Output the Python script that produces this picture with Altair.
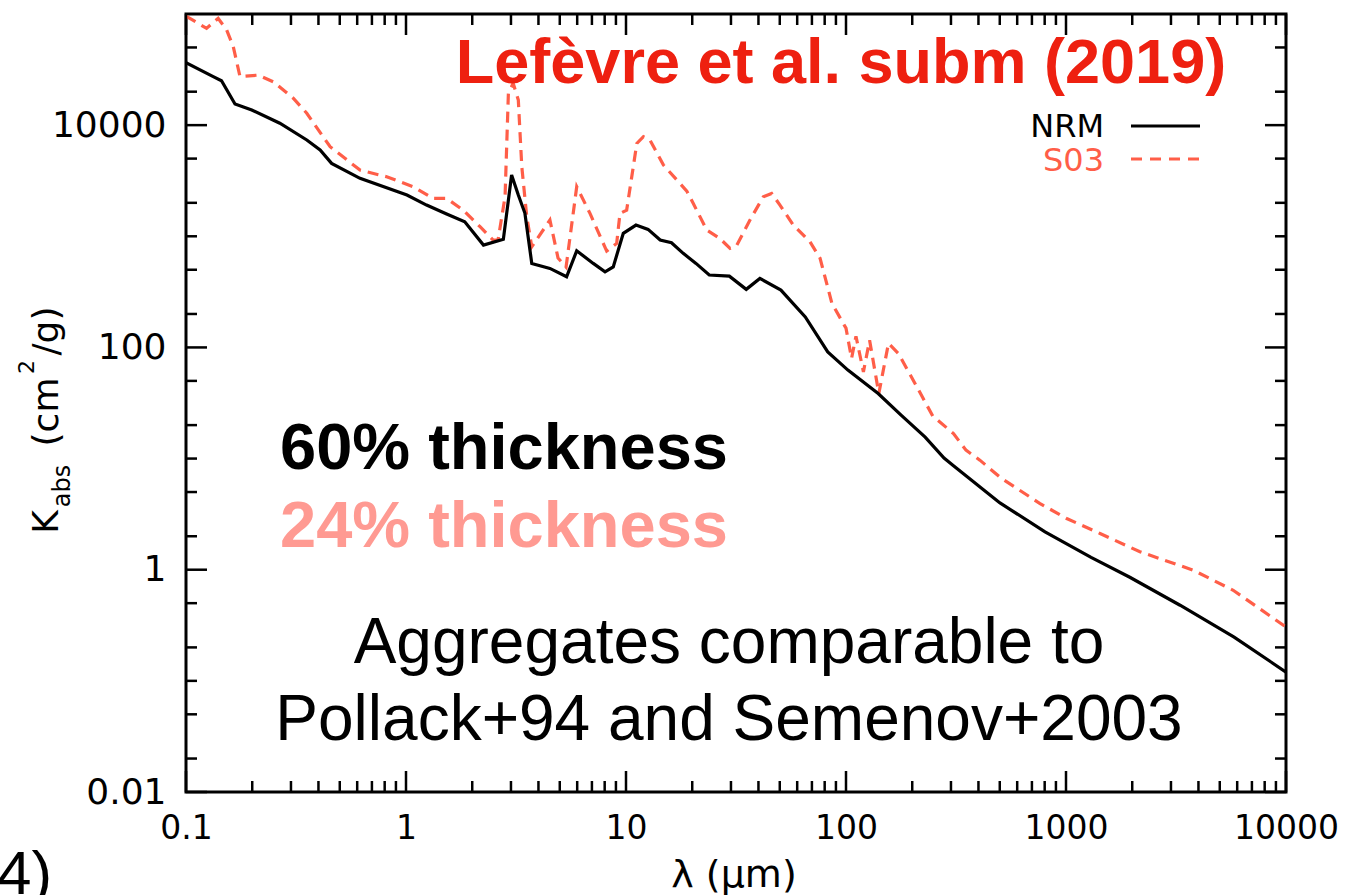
import altair as alt
import pandas as pd

# ---------------- data ----------------
# NRM, 60% thickness (solid black): wavelength (micron), kappa_abs (cm^2/g)
nrm_wl = [0.1, 0.133, 0.145, 0.167, 0.199, 0.267, 0.354, 0.407, 0.459, 0.618,
          1.01, 1.24, 1.53, 1.85, 2.25, 2.77, 3.02, 3.24, 3.47, 3.73,
          4.51, 5.37, 5.97, 7.10, 8.03, 8.75, 9.72, 11.1, 12.6, 14.3,
          16.1, 18.2, 20.8, 23.9, 29.5, 35.2, 40.6, 50.6, 65.3, 82.6,
          102, 140, 178, 229, 279, 306, 501, 803, 1300, 1950,
          3300, 5810, 10000]
nrm_k = [36500, 27300, 25100, 15500, 13700, 10400, 7350, 5970, 4530, 3320,
         2350, 1910, 1585, 1352, 834, 938, 3556, 2350, 1618, 570,
         514, 432, 740, 570, 479, 531, 1062, 1262, 1153, 925,
         875, 702, 570, 448, 438, 333, 418, 328, 188, 91.2,
         62.5, 38.5, 24.6, 15.6, 10.1, 8.73, 3.99, 2.19, 1.29, 0.855,
         0.479, 0.247, 0.120]

# S03, 24% thickness (dashed red)
s03_wl = [0.1, 0.124, 0.140, 0.153, 0.164, 0.176, 0.213, 0.249, 0.308, 0.354,
          0.452, 0.618, 0.817, 1.08, 1.33, 1.53, 1.82, 2.17, 2.49, 2.62,
          2.82, 2.92, 3.07, 3.24, 3.36, 3.54, 3.73, 4.51, 4.91, 5.34,
          5.97, 6.86, 8.17, 9.07, 9.39, 10.07, 11.2, 12.0, 12.85, 14.8,
          18.9, 20.2, 23.3, 26.7, 29.7, 31.9, 36.6, 42.1, 45.9, 50.1,
          57.6, 68.6, 76.2, 86.3, 100, 106, 111, 120, 128, 141,
          156, 173, 210, 248, 308, 351, 406, 507, 762, 1007,
          1428, 2168, 3790, 5754, 10000]
s03_k = [95900, 74300, 91500, 71800, 50800, 27300, 28200, 24600, 17400, 12800,
         6390, 3940, 3430, 2790, 2190, 2190, 1720, 1220, 925, 925,
         2270, 19300, 23800, 16800, 4230, 1500, 804, 1400, 637, 528,
         2790, 1607, 736, 863, 1607, 1720, 6850, 7870, 7350, 4370,
         2550, 1980, 1138, 957, 778, 834, 1400, 2270, 2430, 1910,
         1262, 891, 637, 249, 149, 79.6, 126, 60.3, 116, 38.5,
         109, 88.3, 44.2, 24.1, 16.8, 11.9, 9.68, 6.67, 3.94, 2.89,
         2.12, 1.45, 0.99, 0.653, 0.305]

# axis labels / ticks
x_labels = [0.1, 1, 10, 100, 1000, 10000]
x_minor = [m * d for d in [0.1, 1, 10, 100, 1000] for m in range(2, 10)]
y_labels = [0.01, 1, 100, 10000]
y_minor = [m * 10.0 ** e for e in range(-2, 5) for m in (1, 2, 5)
           if not (m == 1 and e % 2 == 0)]

# ---------------- styling ----------------
W, H = 1100, 778
RED_TITLE = "#EE2010"
RED_LINE = "#FF5E48"
PINK = "#FF9A92"
TICK_FONT = "DejaVu Sans"
TEXT_FONT = "Liberation Sans"

xs = alt.Scale(type="log", domain=[0.1, 10000], nice=False)
ys = alt.Scale(type="log", domain=[0.01, 100000], nice=False)

x_axis = alt.Axis(values=x_labels, format="~g", domain=False, ticks=False, grid=False,
                  labelFont=TICK_FONT, labelFontSize=33, labelColor="black",
                  labelPadding=20, labelFlush=False, labelOverlap=False, title=None)
y_axis = alt.Axis(values=y_labels, format="~g", domain=False, ticks=False, grid=False,
                  labelFont=TICK_FONT, labelFontSize=36, labelColor="black",
                  labelPadding=20, labelFlush=False, labelOverlap=False, title=None)

X = lambda f: alt.X(f, scale=xs, axis=x_axis)
Y = lambda f: alt.Y(f, scale=ys, axis=y_axis)

nrm_df = pd.DataFrame({"wl": nrm_wl, "k": nrm_k})
s03_df = pd.DataFrame({"wl": s03_wl, "k": s03_k})

s03 = alt.Chart(s03_df).mark_line(color=RED_LINE, strokeWidth=3.2, strokeDash=[11, 7],
                                  clip=True).encode(x=X("wl:Q"), y=Y("k:Q"))
nrm = alt.Chart(nrm_df).mark_line(color="black", strokeWidth=3.2,
                                  clip=True).encode(x=X("wl:Q"), y=Y("k:Q"))

# inward ticks on all four sides
def xticks(vals, y0, y1):
    return alt.Chart(pd.DataFrame({"v": vals})).mark_rule(color="black", strokeWidth=2.5).encode(
        x=X("v:Q"), y=alt.value(y0), y2=alt.value(y1))

def yticks(vals, x0, x1):
    return alt.Chart(pd.DataFrame({"v": vals})).mark_rule(color="black", strokeWidth=2.5).encode(
        y=Y("v:Q"), x=alt.value(x0), x2=alt.value(x1))

ticks = [
    xticks(x_labels, 0, 21), xticks(x_minor, 0, 11),
    xticks(x_labels, H, H - 21), xticks(x_minor, H, H - 11),
    yticks(y_labels, 0, 21), yticks(y_minor, 0, 11),
    yticks(y_labels, W, W - 21), yticks(y_minor, W, W - 11),
]

one = pd.DataFrame({"a": [0]})

def label(text, x, y, size, color="black", weight="normal", font=TEXT_FONT,
          align="left", baseline="alphabetic", angle=0):
    return alt.Chart(one).mark_text(text=text, font=font, fontSize=size, fontWeight=weight,
                                    color=color, align=align, baseline=baseline,
                                    angle=angle).encode(x=alt.value(x), y=alt.value(y))

texts = [
    label("Lefèvre et al. subm (2019)", 655, 69, 63, RED_TITLE, "bold", align="center"),
    label("NRM", 918, 123, 32, "black", font=TICK_FONT, align="right"),
    label("S03", 918, 157, 32, RED_LINE, font=TICK_FONT, align="right"),
    label("60% thickness", 94, 455, 65, "black", "bold"),
    label("24% thickness", 94, 533, 65, PINK, "bold"),
    label("Aggregates comparable to", 543, 649, 64, align="center"),
    label("Pollack+94 and Semenov+2003", 543, 726, 64, align="center"),
    label("λ (μm)", 548, 873, 38, font=TICK_FONT, align="center"),
    label("4)", -189, 880, 62),
    # y-axis title: K_abs (cm^2/g), rotated
    label("K", -128, 508, 36, font=TICK_FONT, align="center", angle=270),
    label("abs", -116, 472, 24, font=TICK_FONT, align="center", angle=270),
    label("(cm", -128, 398, 36, font=TICK_FONT, align="center", angle=270),
    label("2", -152, 353, 22, font=TICK_FONT, align="center", angle=270),
    label("/g)", -128, 317, 36, font=TICK_FONT, align="center", angle=270),
]

legend_lines = [
    alt.Chart(one).mark_rule(color="black", strokeWidth=3).encode(
        x=alt.value(945), x2=alt.value(1014), y=alt.value(112)),
    alt.Chart(one).mark_rule(color=RED_LINE, strokeWidth=3, strokeDash=[11, 8]).encode(
        x=alt.value(945), x2=alt.value(1014), y=alt.value(145)),
]

chart = alt.layer(s03, nrm, *ticks, *legend_lines, *texts).properties(
    width=W, height=H,
    autosize=alt.AutoSizeParams(type="none"),
    padding={"left": 186, "top": 14, "right": 72, "bottom": 103},
    background="white",
).configure_view(stroke="black", strokeWidth=3)

chart.save("out.html", embed_options={"renderer": "svg", "actions": False})
